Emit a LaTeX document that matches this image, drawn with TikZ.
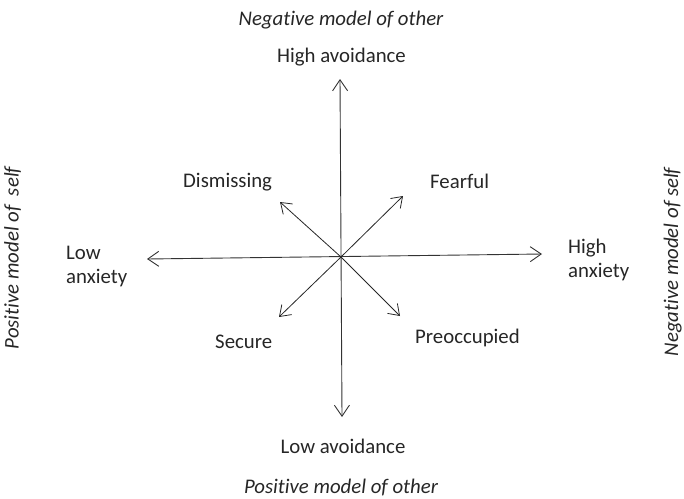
\documentclass[tikz,border=0pt]{standalone}
\usepackage{fontspec}
\setmainfont{Carlito}[Ligatures={NoCommon,NoRare}]
\usetikzlibrary{arrows.meta}
\tikzset{
  lbl/.style={inner sep=0pt, font=\fontsize{20.8}{24}\selectfont, text=black!85},
  ital/.style={lbl, font=\fontsize{20.8}{24}\selectfont\itshape},
  axis/.style={draw=black!80, line width=0.9pt, {Straight Barb[length=11pt,width=15pt]}-{Straight Barb[length=11pt,width=15pt]}},
  diag/.style={draw=black!85, line width=0.8pt, -{Straight Barb[length=10pt,width=14pt]}}
}
\begin{document}
\begin{tikzpicture}[x=1pt,y=-1pt]
\useasboundingbox (0,0) rectangle (684,498);
% tips
\coordinate (c) at (341,257);
\coordinate (top) at (340,79);
\coordinate (bot) at (342,417);
\coordinate (lft) at (147,259);
\coordinate (rgt) at (542,254);
\coordinate (ul) at (280,202);
\coordinate (ur) at (403,196);
\coordinate (ll) at (279,317);
\coordinate (lr) at (400,316);
% arrows
\draw[axis] (top) -- (bot);
\draw[axis] (lft) -- (rgt);
\draw[diag] (c) -- (ul);
\draw[diag] (c) -- (ur);
\draw[diag] (c) -- (ll);
\draw[diag] (c) -- (lr);
% labels
\node[ital, anchor=base] (negother) at (341,25) {Negative model of other};
\node[lbl, anchor=base] (highav) at (341.5,62) {High avoidance};
\node[lbl, anchor=base] (lowav) at (343,453) {Low avoidance};
\node[ital, anchor=base] (posother) at (341,493) {Positive model of other};
\node[lbl, anchor=base west] (dism) at (183,187) {Dismissing};
\node[lbl, anchor=base west] (fear) at (430,188) {Fearful};
\node[lbl, anchor=base west] (sec) at (215,348) {Secure};
\node[lbl, anchor=base west] (preo) at (415,343) {Preoccupied};
\node[lbl, anchor=base west, align=left] (lowanx) at (66,283) {Low\\anxiety};
\node[lbl, anchor=base west, align=left] (highanx) at (568,277) {High\\anxiety};
\node[ital, anchor=base, rotate=90] (posself) at (18.5,258) {Positive model of\ \ self};
\node[ital, anchor=base, rotate=90] (negself) at (678,262) {Negative model of self};
\end{tikzpicture}
\end{document}
